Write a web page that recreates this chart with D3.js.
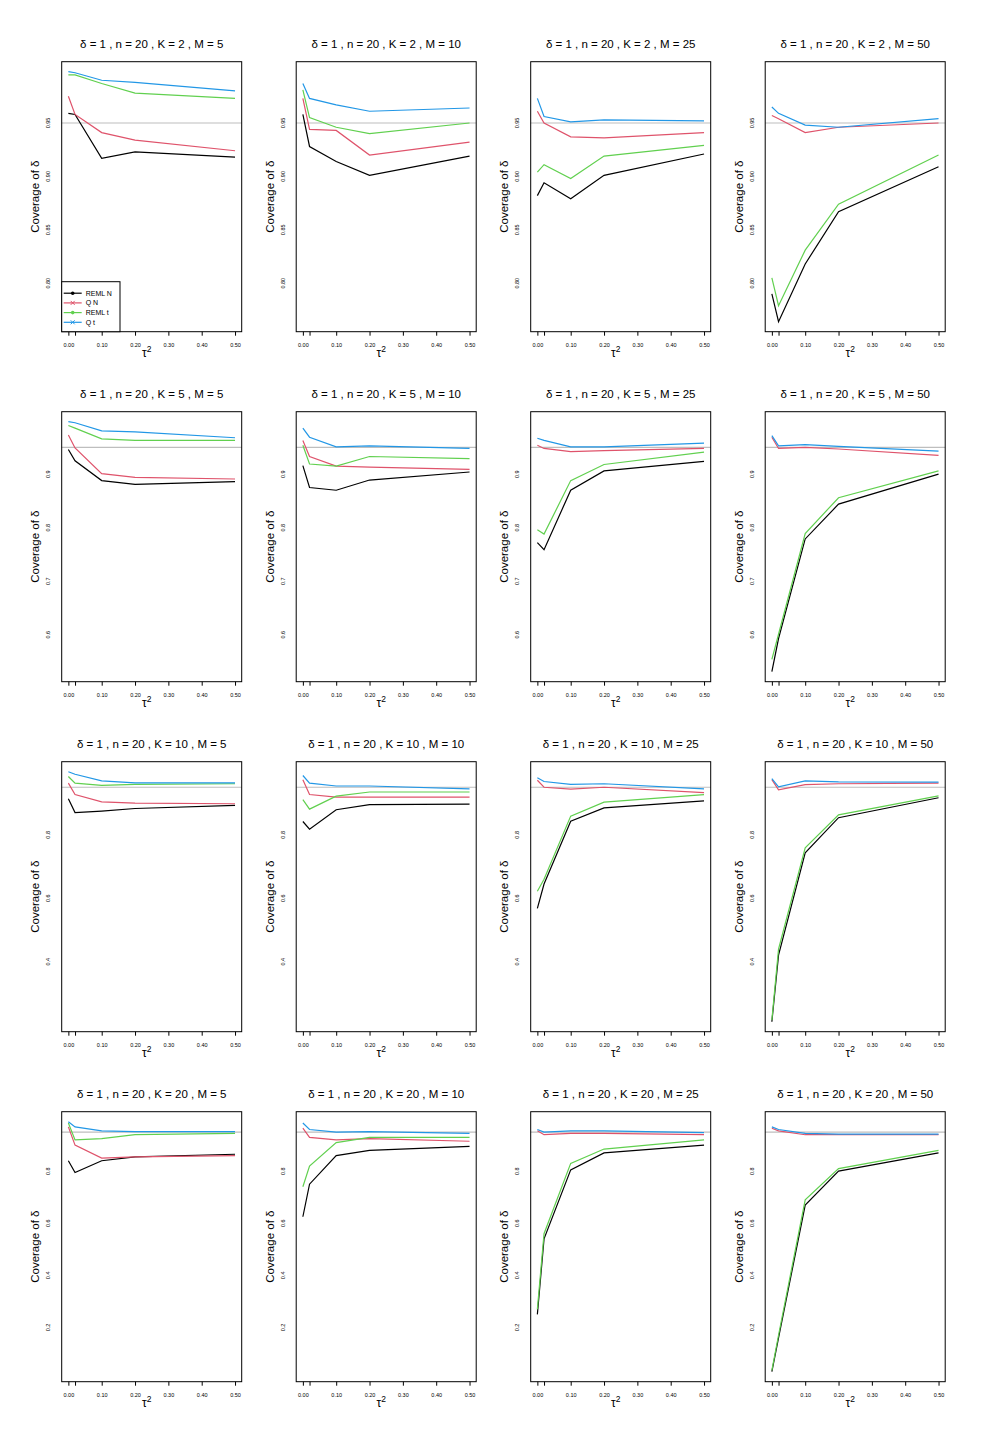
<!DOCTYPE html>
<html>
<head>
<meta charset="utf-8">
<script src="https://cdn.jsdelivr.net/npm/d3@7"></script>
<style>
  body { margin: 0; background: #fff; }
  text { font-family: "Liberation Sans", Arial, sans-serif; }
</style>
</head>
<body>
<div id="chart"></div>
<script>
// simulation settings shown in the panels
const tau = [0, 0.02, 0.1, 0.2, 0.5];
const kValues = [2, 5, 10, 20];
const mValues = [5, 10, 25, 50];
const xTicks = [0, 0.02, 0.1, 0.2, 0.3, 0.4, 0.5];
const xTickLabels = ["0.00", "", "0.10", "0.20", "0.30", "0.40", "0.50"];
const yTicksByRow = [[0.80, 0.85, 0.90, 0.95], [0.6, 0.7, 0.8, 0.9], [0.4, 0.6, 0.8], [0.2, 0.4, 0.6, 0.8]];
const yTickFormats = [".2f", ".1f", ".1f", ".1f"];
const seriesNames = ["REML N", "Q N", "REML t", "Q t"];
const seriesColors = ["#000000", "#DF536B", "#61D04F", "#2297E6"];
const nominal = 0.95;

// coverage per panel (panels ordered by K, then M), one value per tau
const remlN = [
  [0.959, 0.958, 0.917, 0.923, 0.918], [0.958, 0.928, 0.914, 0.901, 0.919],
  [0.882, 0.894, 0.879, 0.901, 0.921], [0.790, 0.764, 0.818, 0.867, 0.909],
  [0.946, 0.925, 0.888, 0.881, 0.886], [0.916, 0.875, 0.870, 0.889, 0.904],
  [0.772, 0.759, 0.870, 0.906, 0.924], [0.531, 0.593, 0.779, 0.844, 0.900],
  [0.914, 0.870, 0.875, 0.883, 0.893], [0.842, 0.818, 0.879, 0.895, 0.897],
  [0.568, 0.645, 0.843, 0.885, 0.907], [0.211, 0.421, 0.743, 0.854, 0.917],
  [0.840, 0.795, 0.840, 0.855, 0.865], [0.625, 0.750, 0.860, 0.880, 0.895],
  [0.250, 0.540, 0.805, 0.870, 0.900], [0.030, 0.160, 0.670, 0.800, 0.870]
];
const qN = [
  [0.975, 0.958, 0.941, 0.934, 0.924], [0.973, 0.944, 0.943, 0.920, 0.932],
  [0.961, 0.950, 0.937, 0.936, 0.941], [0.957, 0.954, 0.941, 0.946, 0.950],
  [0.973, 0.949, 0.901, 0.894, 0.891], [0.963, 0.933, 0.915, 0.913, 0.909],
  [0.954, 0.948, 0.942, 0.944, 0.948], [0.969, 0.948, 0.950, 0.947, 0.935],
  [0.963, 0.927, 0.904, 0.900, 0.898], [0.974, 0.927, 0.919, 0.919, 0.919],
  [0.972, 0.950, 0.944, 0.950, 0.933], [0.974, 0.942, 0.958, 0.961, 0.963],
  [0.970, 0.900, 0.850, 0.855, 0.860], [0.965, 0.930, 0.920, 0.925, 0.915],
  [0.955, 0.940, 0.945, 0.945, 0.940], [0.965, 0.955, 0.940, 0.940, 0.940]
];
const remlT = [
  [0.995, 0.995, 0.987, 0.978, 0.973], [0.981, 0.955, 0.946, 0.940, 0.950],
  [0.904, 0.911, 0.898, 0.919, 0.929], [0.805, 0.779, 0.831, 0.874, 0.920],
  [0.991, 0.986, 0.966, 0.963, 0.963], [0.954, 0.919, 0.915, 0.933, 0.929],
  [0.796, 0.788, 0.888, 0.918, 0.941], [0.554, 0.601, 0.789, 0.856, 0.906],
  [0.984, 0.963, 0.956, 0.959, 0.961], [0.911, 0.881, 0.922, 0.935, 0.935],
  [0.622, 0.660, 0.859, 0.903, 0.927], [0.216, 0.440, 0.759, 0.863, 0.923],
  [0.985, 0.920, 0.925, 0.940, 0.945], [0.740, 0.820, 0.910, 0.930, 0.930],
  [0.270, 0.560, 0.830, 0.885, 0.920], [0.035, 0.170, 0.690, 0.810, 0.880]
];
const qT = [
  [0.998, 0.997, 0.990, 0.988, 0.980], [0.987, 0.973, 0.967, 0.961, 0.964],
  [0.973, 0.956, 0.951, 0.953, 0.952], [0.965, 0.959, 0.948, 0.946, 0.954],
  [0.998, 0.996, 0.981, 0.979, 0.968], [0.986, 0.969, 0.951, 0.953, 0.948],
  [0.967, 0.963, 0.951, 0.951, 0.958], [0.972, 0.953, 0.955, 0.952, 0.943],
  [0.999, 0.991, 0.970, 0.964, 0.964], [0.987, 0.963, 0.954, 0.954, 0.945],
  [0.980, 0.968, 0.959, 0.961, 0.945], [0.977, 0.951, 0.970, 0.967, 0.966],
  [0.990, 0.970, 0.955, 0.952, 0.952], [0.985, 0.960, 0.950, 0.952, 0.945],
  [0.960, 0.950, 0.955, 0.955, 0.948], [0.970, 0.960, 0.945, 0.942, 0.942]
];
const allSeries = [remlN, qN, remlT, qT];

// page layout
const width = 990, height = 1452;
const plotW = 180, plotH = 270;
const left0 = 61.7, colStep = 234.5;
const top0 = 61.7, rowStep = 350;

const svg = d3.select("#chart").append("svg")
  .attr("width", width).attr("height", height);
svg.append("rect").attr("width", width).attr("height", height).attr("fill", "#fff");

kValues.forEach((K, row) => {
  // one y range per row, R style 4% padding
  const rowVals = [];
  allSeries.forEach(s => mValues.forEach((M, col) => rowVals.push(...s[row * 4 + col])));
  const [lo, hi] = d3.extent(rowVals);
  const pad = (hi - lo) * 0.04;

  mValues.forEach((M, col) => {
    const p = row * 4 + col;
    const x0 = left0 + col * colStep, y0 = top0 + row * rowStep;
    const g = svg.append("g").attr("transform", `translate(${x0},${y0})`);

    const x = d3.scaleLinear().domain([-0.02, 0.52]).range([0, plotW]);
    const y = d3.scaleLinear().domain([lo - pad, hi + pad]).range([plotH, 0]);

    // title
    g.append("text")
      .attr("x", plotW / 2).attr("y", -14)
      .attr("text-anchor", "middle").attr("font-size", 11.5)
      .text(`δ = 1 , n = 20 , K = ${K} , M = ${M}`);

    // nominal level
    g.append("line")
      .attr("x1", 0).attr("x2", plotW)
      .attr("y1", y(nominal)).attr("y2", y(nominal))
      .attr("stroke", "#BEBEBE").attr("stroke-width", 1.2);

    // lines
    const line = d3.line().x((d, i) => x(tau[i])).y(d => y(d));
    allSeries.forEach((s, si) => {
      g.append("path")
        .datum(s[p])
        .attr("d", line)
        .attr("fill", "none")
        .attr("stroke", seriesColors[si])
        .attr("stroke-width", 1.2);
    });

    // box
    g.append("rect")
      .attr("width", plotW).attr("height", plotH)
      .attr("fill", "none").attr("stroke", "#000").attr("stroke-width", 1);

    // x axis
    const xa = g.append("g").attr("transform", `translate(0,${plotH})`)
      .call(d3.axisBottom(x).tickValues(xTicks).tickSize(4).tickPadding(7)
        .tickFormat((d, i) => xTickLabels[i]));
    xa.select(".domain").remove();
    xa.selectAll("text").attr("font-size", 5.5).attr("font-family", "Liberation Sans, Arial, sans-serif");

    // y axis labels only (no tick marks visible)
    const fmt = d3.format(yTickFormats[row]);
    g.selectAll(".ylab").data(yTicksByRow[row]).enter().append("text")
      .attr("class", "ylab")
      .attr("transform", d => `translate(-11.5,${y(d)}) rotate(-90)`)
      .attr("text-anchor", "middle").attr("font-size", 5.5)
      .text(d => fmt(d));

    // axis titles
    g.append("text")
      .attr("transform", `translate(-22.5,${plotH / 2}) rotate(-90)`)
      .attr("text-anchor", "middle").attr("font-size", 11.5)
      .text("Coverage of δ");

    const xl = g.append("text")
      .attr("x", plotW / 2 - 5).attr("y", plotH + 25)
      .attr("text-anchor", "middle").attr("font-size", 12);
    xl.append("tspan").text("τ");
    xl.append("tspan").attr("dy", -5).attr("font-size", 8.5).text("2");

    // legend in first panel only
    if (p === 0) {
      const lg = g.append("g").attr("transform", `translate(0,${plotH - 50})`);
      lg.append("rect").attr("width", 58.3).attr("height", 50)
        .attr("fill", "#fff").attr("stroke", "#000").attr("stroke-width", 1);
      seriesNames.forEach((name, i) => {
        const yy = 11.5 + i * 9.7;
        lg.append("line").attr("x1", 2).attr("x2", 20).attr("y1", yy).attr("y2", yy)
          .attr("stroke", seriesColors[i]).attr("stroke-width", 1.2);
        if (i % 2 === 0) {
          lg.append("circle").attr("cx", 11).attr("cy", yy).attr("r", 1.8)
            .attr("fill", seriesColors[i]);
        } else {
          lg.append("path").attr("d", `M${9},${yy - 2}L${13},${yy + 2}M${9},${yy + 2}L${13},${yy - 2}`)
            .attr("stroke", seriesColors[i]).attr("stroke-width", 1);
        }
        lg.append("text").attr("x", 24).attr("y", yy + 2.4)
          .attr("font-size", 7).text(name);
      });
    }
  });
});
</script>
</body>
</html>
